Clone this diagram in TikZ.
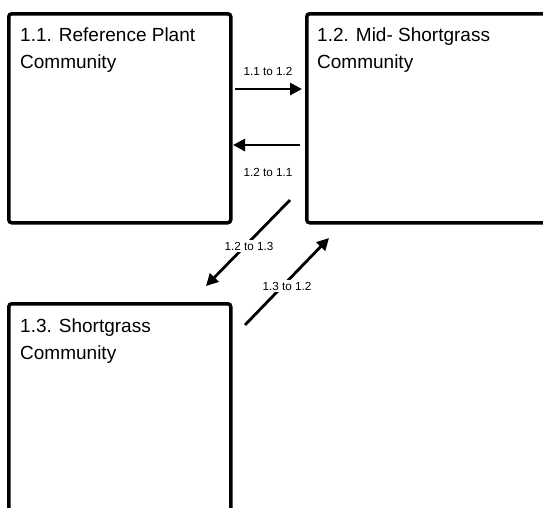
\documentclass[tikz,border=0pt]{standalone}
\usepackage{fontspec}
\setmainfont{Liberation Sans}
\usetikzlibrary{arrows.meta}
\begin{document}
\begin{tikzpicture}[x=1pt,y=-1pt,
  box/.style={draw, line width=3.5pt, rounded corners=3pt, anchor=north west, inner sep=0pt},
  title/.style={anchor=north west, align=left, font=\fontsize{19}{26.5}\selectfont, inner sep=0pt},
  lbl/.style={font=\fontsize{11.7}{13}\selectfont, fill=white, inner sep=2pt},
  arr/.style={line width=2.8pt, -{Triangle[length=12pt,width=12pt]}}]
\useasboundingbox (0,0) rectangle (543,507);
\clip (0,0) rectangle (543,507);
\node[box, minimum width=222pt, minimum height=209pt] (b1) at (7,12) {};
\node[box, minimum width=260pt, minimum height=209pt] (b2) at (305,12) {};
\node[box, minimum width=222pt, minimum height=230pt] (b3) at (7,302) {};
\node[title] (t1) at (20,28) {1.1. Reference Plant\\Community};
\node[title] (t2) at (317,28) {1.2. Mid- Shortgrass\\Community};
\node[title] (t3) at (20,319) {1.3. Shortgrass\\Community};
% horizontal arrows
\coordinate (a1s) at (235,89);
\coordinate (a1e) at (302,89);
\draw[arr] (a1s) -- (a1e);
\node[lbl] (l1) at (268,71) {1.1 to 1.2};
\coordinate (a2s) at (300,145);
\coordinate (a2e) at (233,145);
\draw[arr] (a2s) -- (a2e);
\node[lbl] (l2) at (268,172) {1.2 to 1.1};
% diagonal arrows
\coordinate (d1s) at (290,200);
\coordinate (d1e) at (206,286);
\draw[arr] (d1s) -- (d1e);
\node[lbl] (l3) at (249,246) {1.2 to 1.3};
\coordinate (d2s) at (245,325);
\coordinate (d2e) at (329,238);
\draw[arr] (d2s) -- (d2e);
\node[lbl] (l4) at (287,286) {1.3 to 1.2};
\end{tikzpicture}
\end{document}
